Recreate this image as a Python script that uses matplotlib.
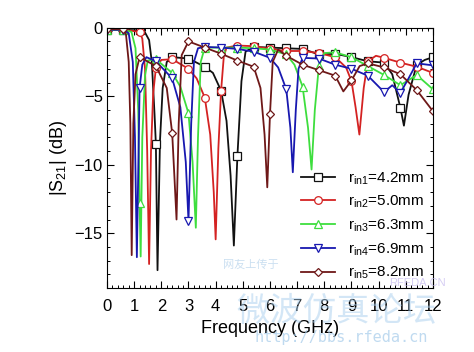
import numpy as np
import matplotlib
matplotlib.use('Agg')
from matplotlib import pyplot as plt

plt.rcParams['font.family'] = ['Liberation Sans', 'DejaVu Sans']
plt.rcParams['mathtext.fontset'] = 'custom'
plt.rcParams['mathtext.rm'] = 'Liberation Sans'
plt.rcParams['mathtext.it'] = 'Liberation Sans:italic'

# |S21| (dB) versus frequency (GHz)
freq1 = [0, 0.6, 1.2, 1.4, 1.55, 1.65, 1.75, 1.8, 1.86, 1.95, 2.05, 2.2, 2.4, 3.0, 3.6, 3.9,
         4.2, 4.4, 4.55, 4.67, 4.8, 4.95, 5.1, 5.4, 6.0, 6.6, 7.2, 7.8, 8.4, 9.0, 9.6, 10.2,
         10.5, 10.8, 10.93, 11.1, 11.4, 11.7, 12.0]
s21_1 = [-0.15, -0.15, -0.2, -0.35, -0.9, -2.5, -6.3, -8.5, -17.7, -8.3, -4.4, -2.5, -2.15,
         -2.25, -2.85, -3.3, -4.6, -6.8, -10.8, -15.9, -9.4, -3.9, -1.75, -1.4, -1.45, -1.5,
         -1.55, -1.95, -1.9, -2.15, -2.45, -2.55, -3.4, -5.85, -7.15, -4.9, -2.7, -2.35, -2.15]

freq2 = [0, 0.6, 1.2, 1.3, 1.4, 1.48, 1.55, 1.62, 1.7, 1.8, 2.0, 2.4, 3.0, 3.3, 3.6, 3.8,
         3.93, 4.0, 4.1, 4.2, 4.3, 4.4, 4.8, 5.4, 6.0, 6.6, 7.2, 7.8, 8.4, 8.8, 9.0, 9.15,
         9.29, 9.45, 9.6, 9.9, 10.2, 10.8, 11.4, 12.0]
s21_2 = [-0.15, -0.15, -0.3, -0.8, -3.0, -9.0, -17.25, -9.0, -4.8, -2.95, -2.35, -2.3, -3.0,
         -3.7, -5.1, -7.8, -12.0, -15.45, -8.8, -4.6, -2.1, -1.45, -1.3, -1.35, -1.55, -1.7,
         -1.7, -1.85, -2.15, -2.9, -3.9, -5.8, -7.8, -4.4, -2.45, -2.05, -2.2, -2.55, -2.85, -3.3]

freq3 = [0, 0.6, 0.9, 1.05, 1.15, 1.2, 1.24, 1.3, 1.4, 1.5, 1.8, 2.4, 2.7, 3.0, 3.15, 3.27,
         3.35, 3.45, 3.6, 4.2, 4.8, 5.4, 6.0, 6.6, 6.9, 7.2, 7.4, 7.53, 7.65, 7.8, 8.0, 8.4,
         9.0, 9.6, 10.2, 10.8, 11.4, 12.0]
s21_3 = [-0.15, -0.15, -0.3, -1.5, -6.0, -12.8, -16.7, -8.0, -3.5, -2.4, -2.3, -3.3, -4.3,
         -6.25, -9.8, -14.6, -8.0, -2.5, -1.45, -1.45, -1.45, -1.5, -1.6, -1.95, -2.7, -4.3,
         -7.3, -10.35, -6.0, -2.8, -1.85, -1.8, -2.15, -2.8, -3.45, -4.2, -3.45, -4.5]

freq4 = [0, 0.6, 0.8, 0.95, 1.03, 1.1, 1.2, 1.3, 1.45, 1.8, 2.4, 2.7, 2.9, 3.0, 3.1, 3.2,
         3.35, 3.6, 4.2, 4.8, 5.4, 6.0, 6.3, 6.6, 6.75, 6.84, 6.95, 7.05, 7.2, 7.8, 8.4, 9.0,
         9.6, 10.2, 10.5, 10.8, 11.1, 11.4, 12.0]
s21_4 = [-0.15, -0.15, -0.4, -2.5, -8.0, -16.75, -4.4, -2.7, -2.15, -2.45, -3.7, -5.8, -9.8,
         -14.1, -7.0, -2.5, -1.5, -1.4, -1.45, -1.55, -1.75, -2.2, -2.9, -4.5, -7.3, -10.55,
         -6.0, -3.0, -2.2, -2.25, -2.7, -3.0, -3.5, -4.7, -4.2, -4.75, -3.7, -2.6, -2.75]

freq5 = [0, 0.6, 0.7, 0.8, 0.86, 0.91, 0.97, 1.05, 1.2, 1.8, 2.2, 2.4, 2.48, 2.56, 2.64, 2.75,
         3.0, 3.6, 4.2, 4.8, 5.4, 5.65, 5.8, 5.9, 6.0, 6.1, 6.3, 6.6, 7.2, 7.8, 8.4, 8.7, 9.0,
         9.3, 9.6, 10.2, 10.8, 11.4, 12.0]
s21_5 = [-0.1, -0.1, -0.5, -2.5, -7.0, -16.6, -7.0, -3.4, -2.15, -2.8, -4.4, -7.7, -10.8,
         -14.0, -7.0, -2.0, -1.0, -1.45, -1.9, -2.4, -2.85, -4.4, -7.8, -11.65, -6.3, -2.5,
         -1.6, -2.05, -2.7, -3.1, -3.5, -4.65, -3.85, -2.8, -2.6, -2.9, -3.4, -4.55, -6.1]

labels = [r'$\mathregular{r_{in1}}$=4.2mm', r'$\mathregular{r_{in2}}$=5.0mm',
          r'$\mathregular{r_{in3}}$=6.3mm', r'$\mathregular{r_{in4}}$=6.9mm',
          r'$\mathregular{r_{in5}}$=8.2mm']
colors = ['#111111', '#d42222', '#3ede3e', '#1818b0', '#6e1818']
markers = ['s', 'o', '^', 'v', 'D']
sizes = [5.5, 5.5, 6, 6, 4.5]

series = [(freq1, s21_1), (freq2, s21_2), (freq3, s21_3), (freq4, s21_4), (freq5, s21_5)]

fig = plt.figure(figsize=(4.74, 3.52), dpi=100)
ax = fig.add_axes([0.2257, 0.1818, 0.6878, 0.7395])

for (f, s), lab, c, m, ms in zip(series, labels, colors, markers, sizes):
    f = np.array(f)
    step = f / 0.6
    mask = np.isclose(step, np.round(step))
    ax.plot(f, s, color=c, lw=1.3, marker=m, ms=ms, mfc='white', mec=c, mew=0.9,
            markevery=list(mask), label=lab)

ax.set_xlim(0, 12)
ax.set_ylim(-19, 0)
ax.set_xticks(np.arange(0, 13, 1))
ax.set_xticks(np.arange(0, 12.01, 0.2), minor=True)
ax.set_yticks([0, -5, -10, -15])
ax.set_yticks(np.arange(-19, 0.01, 1), minor=True)
ax.tick_params(which='both', direction='in', top=True, right=True)
ax.tick_params(which='major', length=5, width=0.8)
ax.tick_params(which='minor', length=2.5, width=0.7)
ax.tick_params(axis='x', labelsize=12, pad=8)
ax.tick_params(axis='y', labelsize=12, pad=3)
ax.set_xlabel('Frequency (GHz)', fontsize=13, labelpad=4)
ax.set_ylabel(r'$\mathregular{|S_{21}|}$ (dB)', fontsize=13, labelpad=4)

ax.legend(loc='lower right', bbox_to_anchor=(1.0, -0.01), frameon=False, fontsize=11,
          handlelength=2.2, handletextpad=0.85, labelspacing=0.48, borderaxespad=0.2)

# faint site watermark seen on the picture
fig.text(0.47, 0.238, '网友上传于', fontsize=8, color='#a9cbe8', alpha=0.6,
         family=['Noto Sans CJK SC'])
fig.text(0.82, 0.188, 'RFEDA.CN', fontsize=8, color='#c4b8ee', alpha=0.7)
fig.text(0.71, 0.115, '微波仿真论坛', fontsize=24, color='#a9cfee', alpha=0.5,
         ha='center', va='center', family=['Noto Sans CJK SC'])
fig.text(0.72, 0.04, 'http://bbs.rfeda.cn', fontsize=11, color='#a5cbea', alpha=0.7,
         ha='center', va='center', family=['DejaVu Sans Mono'])

fig.savefig('out.png', dpi=100)
